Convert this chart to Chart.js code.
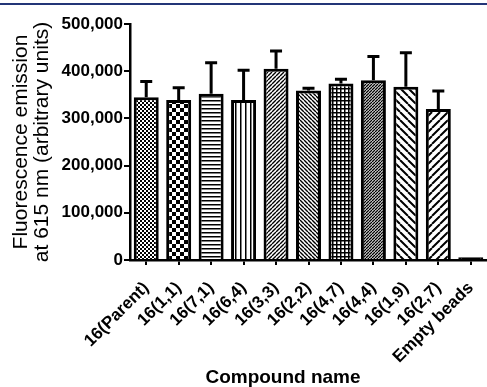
<!DOCTYPE html>
<html><head><meta charset="utf-8">
<script src="https://cdn.jsdelivr.net/npm/chart.js@4.4.1/dist/chart.umd.min.js"></script>
<style>html,body{margin:0;padding:0;background:#fff;}#wrap{width:487px;height:387px;position:relative;overflow:hidden;}</style>
</head><body><div id="wrap"><canvas id="c" width="487" height="387"></canvas></div>
<script>
const categories = ['16(Parent)','16(1,1)','16(7,1)','16(6,4)','16(3,3)','16(2,2)','16(4,7)','16(4,4)','16(1,9)','16(2,7)','Empty beads'];
const meanValues = [345000, 339000, 352000, 339000, 405000, 359000, 374000, 381000, 367000, 320000, 6000];
const sdValues = [33000, 26000, 66000, 63000, 38000, 5000, 9000, 50000, 72000, 38000, 0];
const yTickValues = [0, 100000, 200000, 300000, 400000, 500000];
const patternKinds = ['fineChecker','coarseChecker','hLines','vLines','diagUpFine','diagDownFine','grid','diagUpDense','diagDownWide','diagUpWide','solid'];
const yTitleLines = ['Fluorescence emission', 'at 615 nm (arbitrary units)'];
const xTitleText = 'Compound name';

const FONT = '"Liberation Sans", Arial, Helvetica, sans-serif';
const canvas = document.getElementById('c');
const ctx0 = canvas.getContext('2d');

function makePattern(kind) {
  if (kind === 'solid') return '#000';
  const c = document.createElement('canvas');
  const g = c.getContext('2d');
  function size(w, h) { c.width = w; c.height = h; g.fillStyle = '#fff'; g.fillRect(0, 0, w, h); g.fillStyle = '#000'; g.strokeStyle = '#000'; }
  function diag(p, lw, up) {
    size(p, p); g.lineWidth = lw; g.beginPath();
    for (const k of [-p, 0, p]) {
      if (up) { g.moveTo(k, p); g.lineTo(k + p, 0); }
      else { g.moveTo(k, 0); g.lineTo(k + p, p); }
    }
    g.stroke();
  }
  switch (kind) {
    case 'fineChecker': size(4, 4); g.fillRect(0, 0, 2, 2); g.fillRect(2, 2, 2, 2); break;
    case 'coarseChecker': size(8, 8); g.fillRect(0, 0, 4, 4); g.fillRect(4, 4, 4, 4); break;
    case 'hLines': size(4, 4); g.fillRect(0, 0, 4, 1.5); break;
    case 'vLines': size(5, 5); g.fillRect(0, 0, 1.5, 5); break;
    case 'diagUpFine': diag(4, 1.4, true); break;
    case 'diagDownFine': diag(4, 1.4, false); break;
    case 'grid': size(4, 4); g.fillRect(0, 0, 4, 1.5); g.fillRect(0, 0, 1.5, 4); break;
    case 'diagUpDense': diag(3, 1.4, true); break;
    case 'diagDownWide': diag(8, 2, false); break;
    case 'diagUpWide': diag(8, 2, true); break;
  }
  return ctx0.createPattern(c, 'repeat');
}
const fills = patternKinds.map(makePattern);

const topRulePlugin = {
  id: 'topRule',
  beforeDraw(chart) {
    const c = chart.ctx; c.save(); c.fillStyle = '#233577'; c.fillRect(0, 3, chart.width, 2); c.restore();
  }
};
const errorBarPlugin = {
  id: 'errorBars',
  afterDatasetsDraw(chart) {
    const meta = chart.getDatasetMeta(0);
    const ys = chart.scales.y;
    const c = chart.ctx;
    c.save(); c.strokeStyle = '#000'; c.lineWidth = 3;
    meta.data.forEach((bar, i) => {
      const sd = sdValues[i]; if (!sd) return;
      const x = bar.x, y0 = ys.getPixelForValue(meanValues[i]), y1 = ys.getPixelForValue(meanValues[i] + sd);
      c.beginPath(); c.moveTo(x, y0); c.lineTo(x, y1); c.moveTo(x - 6, y1); c.lineTo(x + 6, y1); c.stroke();
    });
    c.restore();
  }
};
const xTitlePlugin = {
  id: 'xTitle',
  afterDraw(chart) {
    const c = chart.ctx; c.save();
    c.font = 'bold 19px ' + FONT; c.fillStyle = '#000'; c.textAlign = 'center'; c.textBaseline = 'middle';
    c.fillText(xTitleText, 283, 378); c.restore();
  }
};

new Chart(ctx0, {
  type: 'bar',
  data: {
    labels: categories,
    datasets: [{
      data: meanValues, backgroundColor: fills, borderColor: '#000', borderWidth: 3,
      barPercentage: 0.77, categoryPercentage: 1
    }]
  },
  options: {
    responsive: false, animation: false, devicePixelRatio: 1,
    layout: { padding: { top: 24, right: -3, left: 0, bottom: 0 } },
    plugins: { legend: { display: false }, tooltip: { enabled: false } },
    scales: {
      x: {
        grid: { offset: false, drawOnChartArea: false, drawTicks: true, tickLength: 5, color: '#000', lineWidth: 2 },
        border: { display: true, color: '#000', width: 2.5 },
        ticks: { autoSkip: false, maxRotation: 45, minRotation: 45, color: '#000', padding: 13, font: { family: FONT, size: 17, weight: 'bold' } },
        afterFit(s) { s.height = 127; s.paddingRight = -3; }
      },
      y: {
        min: 0, max: 500000,
        afterBuildTicks(s) { s.ticks = yTickValues.map(v => ({ value: v })); },
        ticks: { color: '#000', padding: 1, font: { family: FONT, size: 17, weight: 'bold' }, callback: v => Number(v).toLocaleString('en-US') },
        grid: { drawOnChartArea: false, drawTicks: true, tickLength: 6, color: '#000', lineWidth: 2 },
        border: { display: true, color: '#000', width: 2.5 },
        title: { display: true, text: yTitleLines, color: '#000', font: { family: FONT, size: 21, lineHeight: 1.0 }, padding: { top: 11, bottom: 0 } },
        afterFit(s) { s.width = 130; }
      }
    }
  },
  plugins: [topRulePlugin, errorBarPlugin, xTitlePlugin]
});
</script></body></html>
